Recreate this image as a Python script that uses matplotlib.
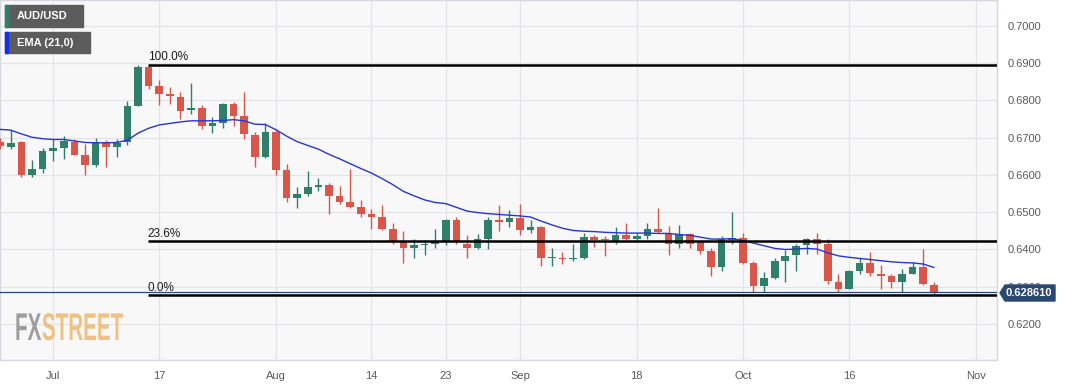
import numpy as np
import pandas as pd
import matplotlib
matplotlib.use("Agg")
import matplotlib.pyplot as plt
from matplotlib.patches import Rectangle, Polygon, PathPatch
from matplotlib.textpath import TextPath
from matplotlib.font_manager import FontProperties
from matplotlib.transforms import Affine2D, IdentityTransform

plt.rcParams["font.family"] = ["Liberation Sans", "DejaVu Sans"]

# AUD/USD daily candles, first bar 2023-06-26 (business days)
START = "2023-06-26"
opens = [0.6688, 0.6675, 0.6687, 0.6601, 0.6616, 0.6664, 0.6671, 0.6689, 0.6653, 0.6626,
         0.6689, 0.6675, 0.6687, 0.6786, 0.6888, 0.6838, 0.6816, 0.6810, 0.6773, 0.6778,
         0.6731, 0.6739, 0.6791, 0.6757, 0.6708, 0.6648, 0.6715, 0.6612, 0.6538, 0.6550,
         0.6568, 0.6572, 0.6543, 0.6527, 0.6514, 0.6495, 0.6486, 0.6454, 0.6420, 0.6405,
         0.6411, 0.6414, 0.6423, 0.6480, 0.6416, 0.6404, 0.6427, 0.6480, 0.6475, 0.6484,
         0.6452, 0.6461, 0.6376, 0.6378, 0.6374, 0.6377, 0.6434, 0.6427, 0.6423, 0.6438,
         0.6429, 0.6437, 0.6454, 0.6445, 0.6416, 0.6441, 0.6423, 0.6395, 0.6352, 0.6425,
         0.6431, 0.6363, 0.6302, 0.6324, 0.6369, 0.6385, 0.6411, 0.6429, 0.6414, 0.6313,
         0.6295, 0.6343, 0.6364, 0.6335, 0.6328, 0.6313, 0.6335, 0.6353, 0.6306]
highs = [0.6698, 0.6720, 0.6690, 0.6641, 0.6671, 0.6695, 0.6705, 0.6697, 0.6684, 0.6699,
         0.6693, 0.6695, 0.6797, 0.6894, 0.6895, 0.6854, 0.6836, 0.6821, 0.6847, 0.6788,
         0.6755, 0.6793, 0.6795, 0.6821, 0.6715, 0.6740, 0.6724, 0.6630, 0.6568, 0.6610,
         0.6593, 0.6577, 0.6570, 0.6617, 0.6534, 0.6508, 0.6520, 0.6470, 0.6450, 0.6427,
         0.6425, 0.6456, 0.6481, 0.6487, 0.6440, 0.6441, 0.6487, 0.6520, 0.6507, 0.6521,
         0.6480, 0.6464, 0.6405, 0.6393, 0.6414, 0.6444, 0.6440, 0.6436, 0.6459, 0.6472,
         0.6445, 0.6472, 0.6510, 0.6462, 0.6465, 0.6443, 0.6425, 0.6405, 0.6436, 0.6501,
         0.6445, 0.6369, 0.6340, 0.6378, 0.6398, 0.6414, 0.6431, 0.6445, 0.6427, 0.6333,
         0.6344, 0.6377, 0.6392, 0.6358, 0.6333, 0.6347, 0.6367, 0.6400, 0.6313]
lows = [0.6669, 0.6669, 0.6594, 0.6594, 0.6604, 0.6637, 0.6642, 0.6653, 0.6599, 0.6620,
        0.6621, 0.6648, 0.6679, 0.6784, 0.6829, 0.6788, 0.6791, 0.6751, 0.6764, 0.6722,
        0.6713, 0.6726, 0.6730, 0.6697, 0.6621, 0.6645, 0.6601, 0.6526, 0.6512, 0.6543,
        0.6556, 0.6496, 0.6521, 0.6512, 0.6486, 0.6454, 0.6452, 0.6416, 0.6365, 0.6378,
        0.6386, 0.6403, 0.6411, 0.6414, 0.6378, 0.6400, 0.6400, 0.6449, 0.6461, 0.6438,
        0.6445, 0.6357, 0.6355, 0.6362, 0.6369, 0.6375, 0.6407, 0.6382, 0.6416, 0.6425,
        0.6420, 0.6427, 0.6445, 0.6385, 0.6403, 0.6403, 0.6387, 0.6329, 0.6343, 0.6416,
        0.6361, 0.6286, 0.6286, 0.6321, 0.6312, 0.6342, 0.6389, 0.6387, 0.6307, 0.6286,
        0.6294, 0.6333, 0.6328, 0.6295, 0.6298, 0.6286, 0.6334, 0.6304, 0.6278]
closes = [0.6677, 0.6686, 0.6601, 0.6615, 0.6664, 0.6671, 0.6690, 0.6654, 0.6626, 0.6688,
          0.6675, 0.6686, 0.6784, 0.6888, 0.6838, 0.6816, 0.6812, 0.6771, 0.6779, 0.6731,
          0.6738, 0.6791, 0.6757, 0.6709, 0.6648, 0.6715, 0.6612, 0.6538, 0.6549, 0.6568,
          0.6572, 0.6543, 0.6527, 0.6514, 0.6496, 0.6486, 0.6454, 0.6423, 0.6404, 0.6411,
          0.6415, 0.6420, 0.6480, 0.6419, 0.6404, 0.6427, 0.6480, 0.6475, 0.6484, 0.6452,
          0.6461, 0.6378, 0.6378, 0.6374, 0.6377, 0.6434, 0.6425, 0.6425, 0.6438, 0.6428,
          0.6436, 0.6454, 0.6447, 0.6416, 0.6441, 0.6416, 0.6396, 0.6353, 0.6429, 0.6431,
          0.6363, 0.6302, 0.6324, 0.6369, 0.6383, 0.6410, 0.6429, 0.6414, 0.6315, 0.6295,
          0.6342, 0.6364, 0.6337, 0.6328, 0.6313, 0.6334, 0.6353, 0.6307, 0.6286]
ema21 = [0.6722, 0.6720, 0.6710, 0.6701, 0.6697, 0.6695, 0.6695, 0.6691, 0.6687, 0.6686,
         0.6686, 0.6687, 0.6693, 0.6712, 0.6725, 0.6734, 0.6738, 0.6742, 0.6745, 0.6745,
         0.6745, 0.6746, 0.6748, 0.6745, 0.6736, 0.6735, 0.6721, 0.6704, 0.6689, 0.6679,
         0.6669, 0.6655, 0.6643, 0.6630, 0.6617, 0.6605, 0.6590, 0.6574, 0.6556, 0.6544,
         0.6533, 0.6526, 0.6523, 0.6513, 0.6503, 0.6499, 0.6496, 0.6494, 0.6492, 0.6490,
         0.6487, 0.6476, 0.6466, 0.6457, 0.6451, 0.6449, 0.6448, 0.6446, 0.6445, 0.6444,
         0.6444, 0.6444, 0.6443, 0.6443, 0.6440, 0.6438, 0.6433, 0.6428, 0.6428, 0.6429,
         0.6424, 0.6417, 0.6410, 0.6403, 0.6400, 0.6401, 0.6403, 0.6401, 0.6391, 0.6383,
         0.6379, 0.6376, 0.6373, 0.6370, 0.6367, 0.6365, 0.6364, 0.6361, 0.6352]

tick_dates = ["2023-07-03", "2023-07-17", "2023-08-01", "2023-08-14", "2023-08-23",
              "2023-09-01", "2023-09-18", "2023-10-02", "2023-10-16", "2023-11-01"]
tick_labels = ["Jul", "17", "Aug", "14", "23", "Sep", "18", "Oct", "16", "Nov"]
y_ticks = [0.62, 0.63, 0.64, 0.65, 0.66, 0.67, 0.68, 0.69, 0.70]

fib_levels = [0.6895, 0.6422, 0.6277]
fib_labels = ["100.0%", "23.6%", "0.0%"]
fib_start = "2023-07-14"
last_price = 0.628610

GREEN, RED = "#2f7f6b", "#d9574a"
EMA_BLUE = "#2636d4"
NAVY = "#2b4870"
W, H = 1067, 386

days = pd.bdate_range(START, "2023-11-10")
pos = {d: i for i, d in enumerate(days)}
x = np.arange(len(opens))
o, h, l, c = map(np.array, (opens, highs, lows, closes))
up = c >= o
col = np.where(up, GREEN, RED)

fig = plt.figure(figsize=(W / 100, H / 100), dpi=100)
ax = fig.add_axes([0.0, 26 / H, 997 / W, 360 / H])
ax.set_facecolor("#f8f8f9")

# candles
ax.vlines(x, l, h, colors=col, lw=1.0, zorder=3)
body_lo = np.minimum(o, c)
body_h = np.maximum(np.abs(c - o), 0.00035)
ax.bar(x, body_h, bottom=body_lo, width=0.72, color=col, zorder=4)

ax.plot(x, ema21, color=EMA_BLUE, lw=1.0, zorder=5)

# fibonacci levels
fx0 = pos[pd.Timestamp(fib_start)]
for lev, lab in zip(fib_levels, fib_labels):
    ax.hlines(lev, fx0 - 0.1, 200, colors="black", lw=1.8, zorder=6)
    ax.text(fx0 - 0.1, lev + 0.0004, lab, fontsize=8.5, color="#1a1a1a",
            ha="left", va="bottom", zorder=6)

ax.axhline(last_price, color=NAVY, lw=0.9, zorder=5)

ax.set_xlim(-0.01, 93.95)
ax.set_ylim(0.61037, 0.70689)

xt = [pos[pd.Timestamp(d)] for d in tick_dates]
ax.set_xticks(xt)
ax.set_xticklabels(tick_labels)
ax.set_yticks(y_ticks)
ax.set_yticklabels([f"{v:.4f}" for v in y_ticks])
ax.yaxis.tick_right()
ax.tick_params(length=0, labelsize=8, labelcolor="#5a5a5a")
ax.tick_params(axis="x", pad=8)
ax.tick_params(axis="y", pad=8)
ax.grid(color="#e2e3e7", lw=0.8, zorder=0)
ax.set_axisbelow(True)
for s in ax.spines.values():
    s.set_color("#d5d8df")
    s.set_linewidth(1.0)

# legend boxes (pixel coordinates from top-left)
def fig_rect(x0, y0, x1, y1, color, z=10):
    r = Rectangle((x0 / W, 1 - y1 / H), (x1 - x0) / W, (y1 - y0) / H,
                  transform=fig.transFigure, color=color, zorder=z)
    fig.add_artist(r)

for (y0, y1, txt, strip) in [(5, 27, "AUD/USD", GREEN), (32, 53, "EMA (21,0)", "#1430e6")]:
    fig_rect(5, y0, 83 if txt == "AUD/USD" else 90, y1, "#5c5c5c")
    fig_rect(5, y0, 7.5, y1, strip, z=11)
    fig.text(17 / W, 1 - (y0 + y1) / 2 / H, txt, color="white", fontsize=8,
             fontweight="bold", va="center", ha="left", zorder=12)

# last price tag
tag = Polygon([(1000 / W, 1 - 293 / H), (1005 / W, 1 - 285 / H), (1055 / W, 1 - 285 / H),
               (1055 / W, 1 - 301 / H), (1005 / W, 1 - 301 / H)],
              closed=True, transform=fig.transFigure, color=NAVY, zorder=10)
fig.add_artist(tag)
fig.text(1029 / W, 1 - 293.5 / H, f"{last_price:.6f}", color="white", fontsize=8,
         fontweight="bold", ha="center", va="center", zorder=12)

# FXSTREET watermark
fp = FontProperties(family=["Liberation Sans Narrow", "Liberation Sans"], weight="bold")
p_fx = TextPath((0, 0), "FX", size=1, prop=fp)
p_st = TextPath((0, 0), "STREET", size=1, prop=fp)
e_fx, e_st = p_fx.get_extents(), p_st.get_extents()
gap = 0.04
sx = 108 / (e_fx.x1 + gap + e_st.x1)
sy = 27 / e_st.y1
base_x, base_y = 15, H - 340
for path, dx, color in [(p_fx, 0, "#9d9d9d"), (p_st, (e_fx.x1 + gap), "#efc284")]:
    tr = Affine2D().scale(sx, sy).translate(base_x + dx * sx, base_y)
    fig.add_artist(PathPatch(tr.transform_path(path), transform=IdentityTransform(),
                             facecolor=color, edgecolor="none", zorder=2))

fig.savefig("out.png", dpi=100, facecolor="white")
